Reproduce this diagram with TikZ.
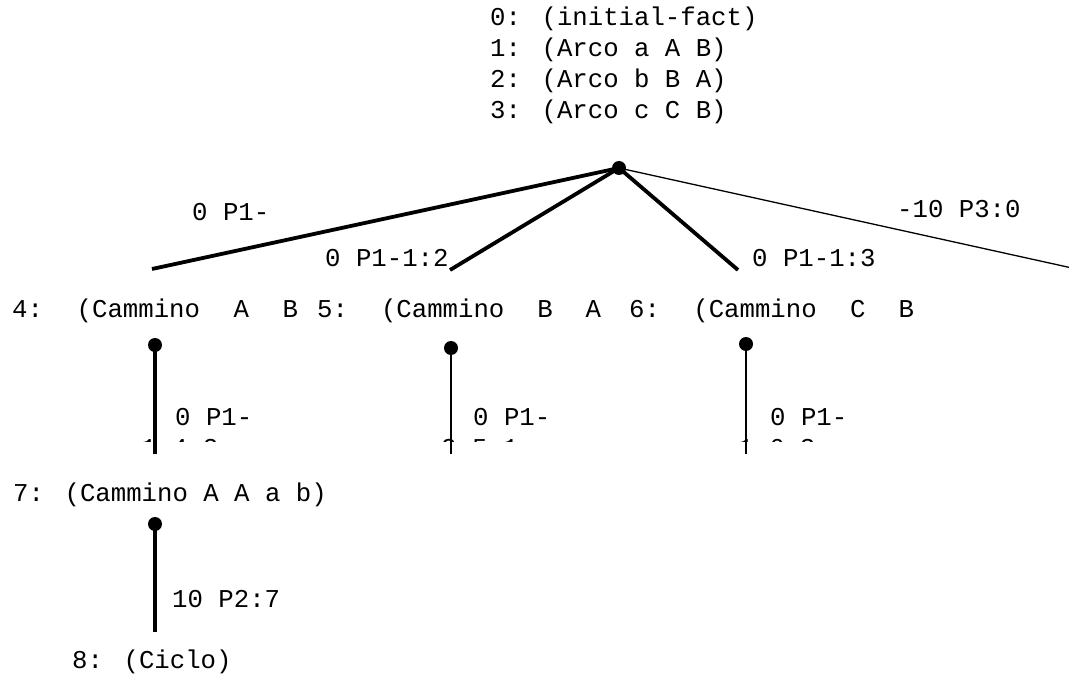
\documentclass[tikz,border=0pt]{standalone}
\usepackage{fontspec}
\newfontfamily\cour{Liberation Mono}
\begin{document}
\begin{tikzpicture}[x=1pt,y=-1pt,
  txt/.style={inner sep=0pt, anchor=base west, align=left,
              font=\cour\fontsize{25.7}{31}\selectfont},
  dot/.style={circle, fill=black, inner sep=0pt, minimum size=14pt},
  heavy/.style={line width=3.8pt},
  light/.style={line width=1.3pt},
  rowbox/.style={txt}]
\useasboundingbox (0,0) rectangle (1069,679);

% root fact list (one node per line, all left-aligned)
\node[txt] (root0) at (490,26) {0: (initial-fact)};
\node[txt] (root1) at (490,57) {1: (Arco a A B)};
\node[txt] (root2) at (490,88) {2: (Arco b B A)};
\node[txt] (root3) at (490,119) {3: (Arco c C B)};
\node[dot] (r) at (619,168) {};

% first level
\coordinate (e4) at (152,269);
\coordinate (e5) at (450,270);
\coordinate (e6) at (738,270);
\coordinate (e9) at (1072,268);
\draw[heavy] (r.center) -- (e4);
\draw[heavy] (r.center) -- (e5);
\draw[heavy] (r.center) -- (e6);
\draw[light] (r.center) -- (e9);
\node[txt] (l4) at (192,221) {0 P1-};
\node[txt] (l5) at (325,267) {0 P1-1:2};
\node[txt] (l6) at (752,267) {0 P1-1:3};
\node[txt] (l9) at (897,218) {-10 P3:0};

\node[rowbox] (n4) at (12,318) {\makebox[286pt][l]{4:\hfill(Cammino\hfill A\hfill B}};
\node[rowbox] (n5) at (317,318) {\makebox[284pt][l]{5:\hfill(Cammino\hfill B\hfill A}};
\node[rowbox] (n6) at (629,318) {\makebox[285pt][l]{6:\hfill(Cammino\hfill C\hfill B}};

\node[dot] (d4) at (155,345) {};
\node[dot] (d5) at (451,348) {};
\node[dot] (d6) at (746,344) {};
\coordinate (f4) at (155,454);
\coordinate (f5) at (451,454);
\coordinate (f6) at (746,454);
\draw[heavy] (d4.center) -- (f4);
\draw[light] (d5.center) -- (f5);
\draw[light] (d6.center) -- (f6);

\node[txt] (m4) at (175,425) {0 P1-};
\node[txt] (m5) at (473,425) {0 P1-};
\node[txt] (m6) at (770,425) {0 P1-};
\begin{scope}
  \clip (0,0) rectangle (1069,441);
  \node[txt] (k4) at (141,456) {1:4:2};
  \node[txt] (k5) at (441,456) {2:5:1};
  \node[txt] (k6) at (738,456) {1:6:3};
\end{scope}

% second level
\node[txt] (n7) at (13,501) {7: (Cammino A A a b)};
\node[dot] (d7) at (155,524) {};
\coordinate (f7) at (155,632);
\draw[heavy] (d7.center) -- (f7);
\node[txt] (l7) at (172,607) {10 P2:7};
\node[txt] (n8) at (72,668) {8: (Ciclo)};
\end{tikzpicture}
\end{document}
